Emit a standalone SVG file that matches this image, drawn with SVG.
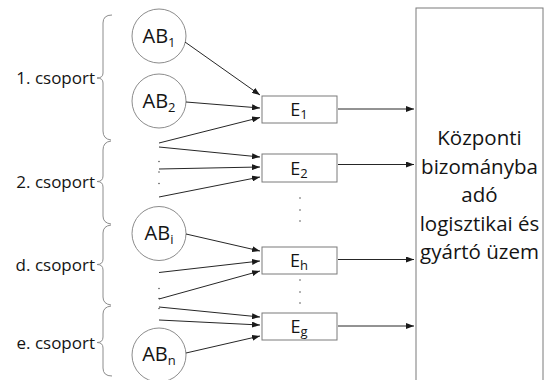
<svg xmlns="http://www.w3.org/2000/svg" width="545" height="380" viewBox="0 0 545 380">
  <style>
    text { font-family: "Open Sans", "Liberation Sans", sans-serif; fill: #141414; }
    .grp { font-size: 17px; text-anchor: end; }
    .ab { font-size: 20px; text-anchor: middle; }
    .e { font-size: 18px; text-anchor: middle; }
    .big { font-size: 20.5px; text-anchor: middle; }
    .sub { font-size: 13px; }
    .node-circle { fill: #fff; stroke: #8c8c8c; stroke-width: 1; }
    .node-box { fill: #fff; stroke: #7a7a7a; stroke-width: 1; }
    .brace { fill: none; stroke: #8c8c8c; stroke-width: 1; }
    .conn line { stroke: #262626; stroke-width: 1; marker-end: url(#arrow); }
    .dot { fill: #555; }
  </style>
  <defs>
    <marker id="arrow" markerUnits="userSpaceOnUse" markerWidth="8" markerHeight="6" refX="8" refY="3" orient="auto">
      <path d="M0,0 L8,3 L0,6 z" fill="#1a1a1a"/>
    </marker>
  </defs>

  <rect width="545" height="380" fill="#fff"/>

  <!-- group braces with their labels -->
  <g id="group-1">
    <path class="brace" d="M112,15 Q103,15 103,23 L103,73 Q103,78 97,78 Q103,78 103,83 L103,131 Q103,139 111,140"/>
    <text class="grp" x="95" y="84">1. csoport</text>
  </g>
  <g id="group-2">
    <path class="brace" d="M111,141 Q103,142 103,150 L103,176 Q103,181.5 97,181.5 Q103,181.5 103,187 L103,216 Q103,223 111,224"/>
    <text class="grp" x="95" y="187.5">2. csoport</text>
  </g>
  <g id="group-d">
    <path class="brace" d="M111,225 Q103,226 103,233 L103,259 Q103,264.5 97,264.5 Q103,264.5 103,270 L103,297 Q103,304 111,305"/>
    <text class="grp" x="95" y="270.5">d. csoport</text>
  </g>
  <g id="group-e">
    <path class="brace" d="M111,306 Q103,307 103,314 L103,337 Q103,342.5 97,342.5 Q103,342.5 103,348 L103,368 Q103,376 112,376"/>
    <text class="grp" x="95" y="348.5">e. csoport</text>
  </g>

  <!-- source nodes -->
  <g id="ab1">
    <circle class="node-circle" cx="159" cy="36" r="27"/>
    <text class="ab" x="159" y="42.5">AB<tspan class="sub" dy="4">1</tspan></text>
  </g>
  <g id="ab2">
    <circle class="node-circle" cx="159" cy="101" r="27"/>
    <text class="ab" x="159" y="107.5">AB<tspan class="sub" dy="4">2</tspan></text>
  </g>
  <g id="abi">
    <circle class="node-circle" cx="159" cy="233.5" r="27"/>
    <text class="ab" x="159" y="240">AB<tspan class="sub" dy="4">i</tspan></text>
  </g>
  <g id="abn">
    <circle class="node-circle" cx="159" cy="355" r="27"/>
    <text class="ab" x="159" y="361">AB<tspan class="sub" dy="4">n</tspan></text>
  </g>

  <!-- intermediate nodes -->
  <g id="e1">
    <rect class="node-box" x="262" y="96" width="75" height="27"/>
    <text class="e" x="299" y="115.5">E<tspan class="sub" dy="3">1</tspan></text>
  </g>
  <g id="e2">
    <rect class="node-box" x="262" y="154" width="75" height="28"/>
    <text class="e" x="299" y="174.5">E<tspan class="sub" dy="3">2</tspan></text>
  </g>
  <g id="eh">
    <rect class="node-box" x="262" y="247" width="75" height="27"/>
    <text class="e" x="299" y="266.5">E<tspan class="sub" dy="3">h</tspan></text>
  </g>
  <g id="eg">
    <rect class="node-box" x="262" y="313" width="75" height="27"/>
    <text class="e" x="299" y="332.5">E<tspan class="sub" dy="3">g</tspan></text>
  </g>

  <!-- central plant -->
  <g id="center">
    <rect class="node-box" x="416" y="8" width="127" height="380"/>
    <text class="big" x="479.5" y="145">Központi</text>
    <text class="big" x="479.5" y="173.5">bizományba</text>
    <text class="big" x="479.5" y="202">adó</text>
    <text class="big" x="479.5" y="230.5">logisztikai és</text>
    <text class="big" x="479.5" y="259">gyártó üzem</text>
  </g>

  <!-- ellipsis dots -->
  <g id="ellipses">
    <circle class="dot" cx="159" cy="161.5" r="0.8"/>
    <circle class="dot" cx="159" cy="172" r="0.8"/>
    <circle class="dot" cx="159" cy="183.5" r="0.8"/>
    <circle class="dot" cx="159" cy="288.5" r="0.8"/>
    <circle class="dot" cx="159" cy="298.5" r="0.8"/>
    <circle class="dot" cx="159" cy="308.5" r="0.8"/>
    <circle class="dot" cx="300" cy="198" r="0.8"/>
    <circle class="dot" cx="300" cy="210" r="0.8"/>
    <circle class="dot" cx="300" cy="221" r="0.8"/>
    <circle class="dot" cx="300" cy="280" r="0.8"/>
    <circle class="dot" cx="300" cy="292" r="0.8"/>
    <circle class="dot" cx="300" cy="303" r="0.8"/>
  </g>

  <!-- connectors -->
  <g id="connectors" class="conn">
    <line x1="185" y1="42" x2="260" y2="95"/>
    <line x1="186" y1="102" x2="260" y2="108"/>
    <line x1="159" y1="143" x2="260" y2="117.5"/>
    <line x1="159" y1="147" x2="260" y2="157"/>
    <line x1="159" y1="169" x2="260" y2="167"/>
    <line x1="159" y1="197" x2="260" y2="177"/>
    <line x1="186" y1="234" x2="260" y2="251"/>
    <line x1="159" y1="272.5" x2="260" y2="261"/>
    <line x1="159" y1="299" x2="260" y2="271"/>
    <line x1="159" y1="307" x2="260" y2="317"/>
    <line x1="159" y1="320" x2="260" y2="325"/>
    <line x1="186" y1="353" x2="260" y2="336"/>
    <line x1="338" y1="109" x2="414" y2="109"/>
    <line x1="338" y1="164.5" x2="414" y2="164.5"/>
    <line x1="338" y1="259.5" x2="414" y2="259.5"/>
    <line x1="338" y1="326" x2="414" y2="326"/>
  </g>
</svg>
